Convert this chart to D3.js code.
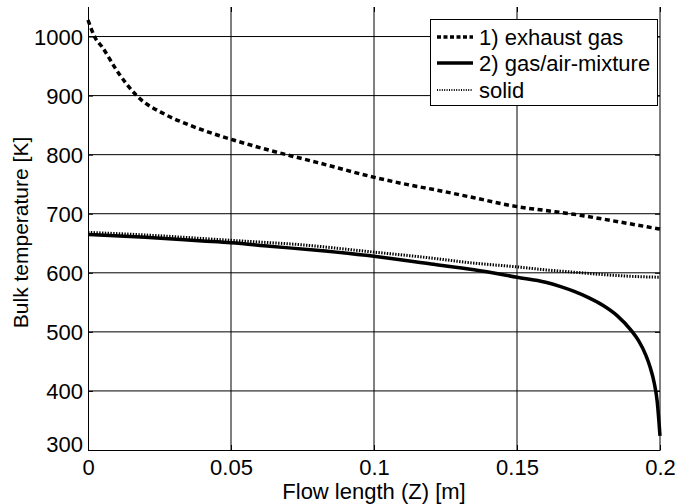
<!DOCTYPE html>
<html>
<head>
<meta charset="utf-8">
<script src="https://cdn.jsdelivr.net/npm/d3@7"></script>
<style>
  html, body { margin: 0; padding: 0; background: #fff; }
  svg { display: block; }
  text { font-family: "Liberation Sans", Arial, sans-serif; fill: #000; }
</style>
</head>
<body>
<svg id="chart" width="676" height="504"></svg>
<script>
// Flow length along the reactor [m] and bulk temperatures [K]
const exhaustZ = [0, 0.0025, 0.005, 0.01, 0.017, 0.027, 0.035, 0.046, 0.0514, 0.06, 0.0694, 0.08, 0.0998, 0.11, 0.123, 0.135, 0.15, 0.16, 0.17, 0.18, 0.19, 0.2];
const exhaustT = [1028, 998, 982, 943, 900, 868, 851, 832, 824, 812, 800, 787, 762, 751, 739, 727, 712, 705.5, 699, 691, 682.5, 674];

const mixtureZ = [0, 0.02, 0.04, 0.05, 0.0636, 0.08, 0.1, 0.12, 0.135, 0.15, 0.16, 0.165, 0.17, 0.175, 0.18, 0.185, 0.19, 0.1925, 0.195, 0.1965, 0.198, 0.199, 0.2];
const mixtureT = [665, 660, 654, 651, 645, 638, 628, 615, 605, 592.5, 584, 577, 568.5, 558, 545, 527.5, 502, 485, 461, 441, 413, 383, 324];

const solidZ = [0, 0.02, 0.05, 0.0636, 0.0689, 0.1, 0.12, 0.1336, 0.15, 0.16, 0.17, 0.18, 0.19, 0.2];
const solidT = [668.5, 664, 655, 651, 649.5, 635, 625, 617, 610, 605, 601, 597, 594, 592.5];

const xTicks = [0, 0.05, 0.1, 0.15, 0.2];
const xTickLabels = ["0", "0.05", "0.1", "0.15", "0.2"];
const yTicks = [300, 400, 500, 600, 700, 800, 900, 1000];

const legendLabels = ["1) exhaust gas", "2) gas/air-mixture", "solid"];

const svg = d3.select("#chart");
const m = { left: 88, right: 660, top: 7, bottom: 450 };
const fontSize = 22;

const x = d3.scaleLinear().domain([0, 0.2]).range([m.left, m.right]);
const y = d3.scaleLinear().domain([300, 1050]).range([m.bottom, m.top]);

// grid
const grid = svg.append("g").attr("stroke", "#000").attr("stroke-width", 1).attr("fill", "none");
xTicks.slice(1, -1).forEach(v => {
  grid.append("line").attr("x1", x(v)).attr("x2", x(v)).attr("y1", m.top).attr("y2", m.bottom);
});
yTicks.slice(1).forEach(v => {
  grid.append("line").attr("x1", m.left).attr("x2", m.right).attr("y1", y(v)).attr("y2", y(v));
});

// axes (ticks pointing inward)
const tickLen = 5;
const axB = svg.append("g").attr("transform", `translate(0,${m.bottom})`)
  .call(d3.axisBottom(x).tickValues(xTicks).tickFormat((d, i) => xTickLabels[i]).tickSizeInner(-tickLen).tickSizeOuter(0).tickPadding(9));
const axL = svg.append("g").attr("transform", `translate(${m.left},0)`)
  .call(d3.axisLeft(y).tickValues(yTicks).tickFormat(d3.format("d")).tickSizeInner(-tickLen).tickSizeOuter(0).tickPadding(5));
const axR = svg.append("g").attr("transform", `translate(${m.right},0)`)
  .call(d3.axisRight(y).tickValues(yTicks).tickFormat("").tickSizeInner(-tickLen).tickSizeOuter(0));
const axT = svg.append("g").attr("transform", `translate(0,${m.top})`)
  .call(d3.axisTop(x).tickValues(xTicks).tickFormat("").tickSizeInner(-tickLen).tickSizeOuter(0));
axR.select(".domain").attr("d", `M0,${m.top}V${m.bottom}`);
axT.select(".domain").remove();

[axB, axL, axR, axT].forEach(a => {
  a.selectAll("path, line").attr("stroke", "#000").attr("stroke-width", 1);
  a.selectAll("text").attr("font-size", fontSize).attr("font-family", "Liberation Sans, Arial, sans-serif").attr("fill", "#000");
});
// lowest y label sits a little above the corner
axL.selectAll(".tick text").filter(d => d === 300).attr("dy", "0.05em");
axL.selectAll(".tick text").filter(d => d !== 300).attr("dy", "0.35em");

// curves
const line = d3.line().x(d => x(d[0])).y(d => y(d[1])).curve(d3.curveMonotoneX);
const series = [
  { z: exhaustZ, t: exhaustT, width: 3.5, dash: "5,3.5" },
  { z: mixtureZ, t: mixtureT, width: 3.5, dash: null },
  { z: solidZ, t: solidT, width: 3, dash: "1.4,1.4" }
];
series.forEach(s => {
  svg.append("path")
    .datum(s.z.map((z, i) => [z, s.t[i]]))
    .attr("d", line)
    .attr("fill", "none")
    .attr("stroke", "#000")
    .attr("stroke-width", s.width)
    .attr("stroke-dasharray", s.dash);
});

// axis titles
svg.append("text").attr("x", (m.left + m.right) / 2).attr("y", 499)
  .attr("text-anchor", "middle").attr("font-size", 22).text("Flow length (Z) [m]");
svg.append("text").attr("transform", `translate(28,${(m.top + m.bottom) / 2 + 4}) rotate(-90)`)
  .attr("text-anchor", "middle").attr("font-size", 21).text("Bulk temperature [K]");

// legend
const lg = svg.append("g");
lg.append("rect").attr("x", 430.5).attr("y", 19.5).attr("width", 227).attr("height", 86)
  .attr("fill", "#fff").attr("stroke", "#000").attr("stroke-width", 1);
const rowsY = [37, 63, 90];
const sampleStyles = [
  { width: 3.5, dash: "4,2.5" },
  { width: 3.5, dash: null },
  { width: 2, dash: "1,1.4" }
];
legendLabels.forEach((lab, i) => {
  lg.append("line").attr("x1", 437).attr("x2", 473).attr("y1", rowsY[i]).attr("y2", rowsY[i])
    .attr("stroke", "#000").attr("stroke-width", sampleStyles[i].width)
    .attr("stroke-dasharray", sampleStyles[i].dash);
  lg.append("text").attr("x", 479).attr("y", rowsY[i]).attr("dy", "0.35em")
    .attr("font-size", fontSize).text(lab);
});
</script>
</body>
</html>
